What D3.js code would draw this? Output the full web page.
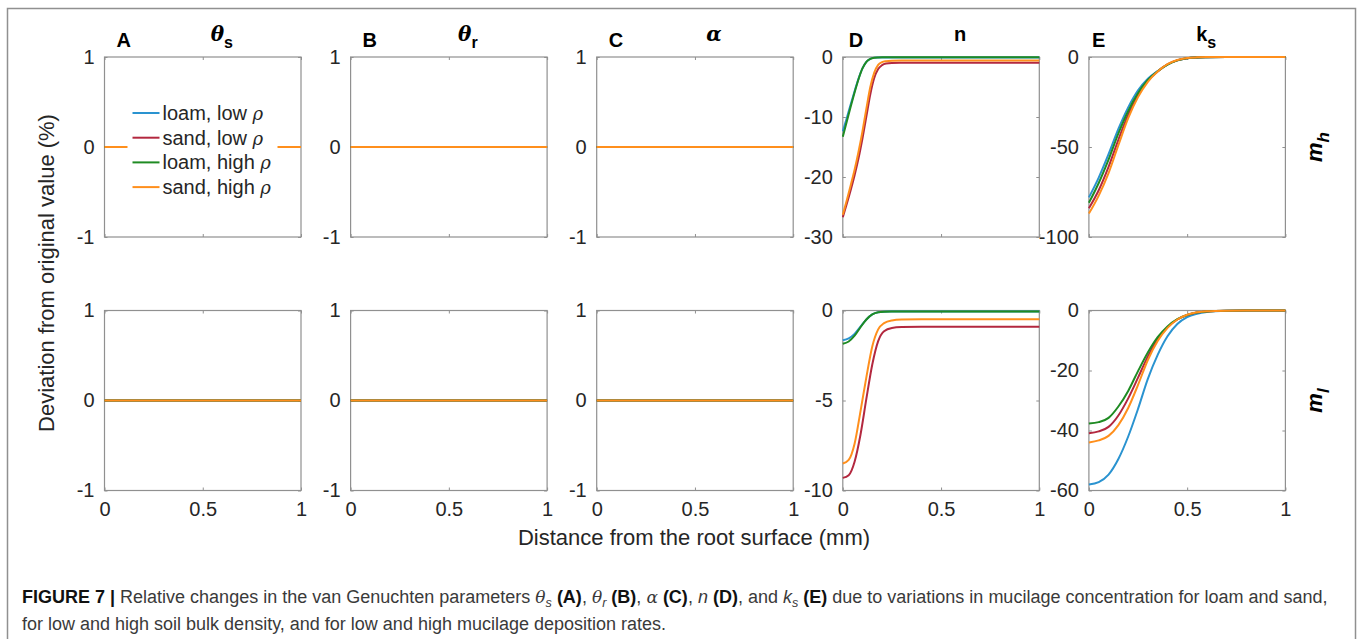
<!DOCTYPE html>
<html><head><meta charset="utf-8">
<script src="https://cdn.jsdelivr.net/npm/d3@7"></script>
<style>
html,body{margin:0;padding:0;background:#fff;}
svg{display:block;font-family:"Liberation Sans",Arial,Helvetica,sans-serif;}
</style></head>
<body>
<script>
// ---------- data ----------
const seriesNames = ["loam, low ρ", "sand, low ρ", "loam, high ρ", "sand, high ρ"];
const xTickValues = [0, 0.5, 1];
const yTicksFlat = [1, 0, -1];
const yTicksDh = [0, -10, -20, -30];
const yTicksEh = [0, -50, -100];
const yTicksDl = [0, -5, -10];
const yTicksEl = [0, -20, -40, -60];

// flat panels (theta_s, theta_r, alpha): all series zero
const xFlat = [0, 1];
const yFlat = [0, 0];

// panel D, high deposition (m_h)
const xDh = [0, 0.02, 0.04, 0.06, 0.08, 0.10, 0.12, 0.14, 0.16, 0.18, 0.20, 0.22, 0.25, 0.30, 0.40, 0.60, 1.0];
const DhLoamLow  = [-12.4, -10.2, -7.9, -5.7, -3.6, -1.9, -0.8, -0.3, -0.13, -0.1, -0.1, -0.1, -0.1, -0.1, -0.1, -0.1, -0.1];
const DhSandLow  = [-26.7, -24.5, -22.2, -19.7, -16.9, -13.6, -9.9, -6.2, -3.5, -2.0, -1.35, -1.1, -1.0, -0.97, -0.95, -0.95, -0.95];
const DhLoamHigh = [-13.3, -10.8, -8.3, -5.9, -3.7, -1.9, -0.8, -0.3, -0.12, -0.08, -0.06, -0.05, -0.05, -0.05, -0.05, -0.05, -0.05];
const DhSandHigh = [-26.3, -23.9, -21.4, -18.8, -15.8, -12.4, -8.6, -5.0, -2.6, -1.3, -0.85, -0.7, -0.62, -0.6, -0.6, -0.6, -0.6];

// panel E, high deposition (m_h)
const xEh = [0, 0.05, 0.1, 0.15, 0.2, 0.25, 0.3, 0.35, 0.4, 0.45, 0.5, 0.55, 0.6, 0.7, 0.8, 1.0];
const EhLoamLow  = [-78, -67, -54, -40, -28, -18.5, -12, -7.8, -4.2, -1.9, -0.7, -0.25, -0.1, 0, 0, 0];
const EhSandLow  = [-84, -74, -61, -46, -32, -21, -13.2, -8, -4.1, -1.8, -0.7, -0.25, -0.1, 0, 0, 0];
const EhLoamHigh = [-81, -70, -57, -42.5, -30, -20, -12.8, -7.9, -4.2, -1.9, -0.7, -0.25, -0.1, 0, 0, 0];
const EhSandHigh = [-87, -77, -64.5, -49, -34, -22.3, -13.8, -8.1, -4.0, -1.7, -0.6, -0.2, -0.05, 0, 0, 0];

// panel D, low deposition (m_l)
const xDl = [0, 0.03, 0.06, 0.09, 0.12, 0.15, 0.18, 0.21, 0.25, 0.3, 0.4, 0.6, 1.0];
const DlLoamLow  = [-1.65, -1.55, -1.3, -0.9, -0.5, -0.22, -0.1, -0.07, -0.06, -0.05, -0.05, -0.05, -0.05];
const DlSandLow  = [-9.3, -9.15, -8.4, -6.9, -4.9, -3.0, -1.7, -1.15, -0.97, -0.92, -0.9, -0.9, -0.9];
const DlLoamHigh = [-1.85, -1.72, -1.4, -0.93, -0.5, -0.22, -0.1, -0.07, -0.06, -0.06, -0.06, -0.06, -0.06];
const DlSandHigh = [-8.5, -8.3, -7.4, -5.6, -3.7, -2.0, -1.05, -0.7, -0.55, -0.5, -0.48, -0.48, -0.48];

// panel E, low deposition (m_l)
const xEl = [0, 0.05, 0.1, 0.15, 0.2, 0.25, 0.3, 0.35, 0.4, 0.45, 0.5, 0.55, 0.6, 0.7, 0.8, 1.0];
const ElLoamLow  = [-58, -57.2, -54.7, -49.5, -42, -32.8, -22.8, -14.8, -8.6, -4.5, -2.2, -1.1, -0.5, -0.1, 0, 0];
const ElSandLow  = [-40.9, -40.3, -38.8, -35, -29.3, -22.4, -15.3, -9.5, -5.6, -3.0, -1.5, -0.7, -0.3, -0.05, 0, 0];
const ElLoamHigh = [-37.7, -37.2, -35.8, -32, -26.8, -20.2, -14, -8.9, -5.3, -2.9, -1.5, -0.7, -0.3, -0.05, 0, 0];
const ElSandHigh = [-44, -43.3, -41.8, -38.2, -32.5, -24.8, -16.5, -10.2, -5.8, -3.0, -1.4, -0.6, -0.25, -0.05, 0, 0];

// ---------- styles / layout ----------
const colors = ["#2a93d0", "#b3283f", "#1f8b23", "#ff8f1c"];
const W = 1360, H = 639;
const colLeft0 = 104.5, colStep = 246.1, plotW = 196.5;
const rowTops = [57, 310.5], plotH = 180;
const frameColor = "#909090";
const textColor = "#262626";
const tickFont = 20;

const svg = d3.select("body").append("svg").attr("width", W).attr("height", H);

// outer frame
svg.append("rect").attr("x", 7.5).attr("y", 8.5).attr("width", 1348).attr("height", 660)
  .attr("fill", "none").attr("stroke", frameColor).attr("stroke-width", 1.5);

const zeros = [yFlat, yFlat, yFlat, yFlat];
const panels = [
  {row:0, col:0, x:xFlat, ys:zeros, domain:[-1,1], ticks:yTicksFlat, letter:"A", title:"theta_s", legend:true},
  {row:0, col:1, x:xFlat, ys:zeros, domain:[-1,1], ticks:yTicksFlat, letter:"B", title:"theta_r"},
  {row:0, col:2, x:xFlat, ys:zeros, domain:[-1,1], ticks:yTicksFlat, letter:"C", title:"alpha"},
  {row:0, col:3, x:xDh, ys:[DhLoamLow, DhSandLow, DhLoamHigh, DhSandHigh], domain:[-30,0], ticks:yTicksDh, letter:"D", title:"n"},
  {row:0, col:4, x:xEh, ys:[EhLoamLow, EhSandLow, EhLoamHigh, EhSandHigh], domain:[-100,0], ticks:yTicksEh, letter:"E", title:"k_s"},
  {row:1, col:0, x:xFlat, ys:zeros, domain:[-1,1], ticks:yTicksFlat},
  {row:1, col:1, x:xFlat, ys:zeros, domain:[-1,1], ticks:yTicksFlat},
  {row:1, col:2, x:xFlat, ys:zeros, domain:[-1,1], ticks:yTicksFlat},
  {row:1, col:3, x:xDl, ys:[DlLoamLow, DlSandLow, DlLoamHigh, DlSandHigh], domain:[-10,0], ticks:yTicksDl},
  {row:1, col:4, x:xEl, ys:[ElLoamLow, ElSandLow, ElLoamHigh, ElSandHigh], domain:[-60,0], ticks:yTicksEl}
];
const letterOffsets = [12, 12, 12, 6, 3];
const titleOffset = 19;

panels.forEach(p => {
  const x0 = colLeft0 + p.col * colStep, y0 = rowTops[p.row];
  const xs = d3.scaleLinear().domain([0, 1]).range([x0, x0 + plotW]);
  const ys = d3.scaleLinear().domain(p.domain).range([y0 + plotH, y0]);
  const g = svg.append("g");

  // box
  g.append("rect").attr("x", x0).attr("y", y0).attr("width", plotW).attr("height", plotH)
    .attr("fill", "#fff").attr("stroke", frameColor).attr("stroke-width", 1.2);

  // axes with inward ticks on all four sides
  const yAxL = g.append("g").attr("transform", `translate(${x0},0)`)
    .call(d3.axisLeft(ys).tickValues(p.ticks).tickSize(-3).tickPadding(10).tickFormat(d3.format("d")));
  const yAxR = g.append("g").attr("transform", `translate(${x0 + plotW},0)`)
    .call(d3.axisRight(ys).tickValues(p.ticks).tickSize(-3).tickFormat(""));
  const xAxB = g.append("g").attr("transform", `translate(0,${y0 + plotH})`)
    .call(d3.axisBottom(xs).tickValues(xTickValues).tickSize(-3).tickPadding(11).tickFormat(d => d3.format("")(d)));
  const xAxT = g.append("g").attr("transform", `translate(0,${y0})`)
    .call(d3.axisTop(xs).tickValues(xTickValues).tickSize(-3).tickFormat(""));
  [yAxL, yAxR, xAxB, xAxT].forEach(a => {
    a.select(".domain").remove();
    a.selectAll(".tick line").attr("stroke", frameColor).attr("stroke-width", 1);
    a.selectAll(".tick text").attr("fill", textColor).attr("font-size", tickFont)
      .attr("font-family", "Liberation Sans, Arial, sans-serif");
  });
  yAxL.selectAll(".tick text").text(d => d < 0 ? "-" + Math.abs(d) : d);
  if (p.row === 0) xAxB.selectAll(".tick text").remove();

  // curves
  const clipId = `clip${p.row}${p.col}`;
  svg.append("clipPath").attr("id", clipId).append("rect")
    .attr("x", x0 - 1).attr("y", y0 - 2).attr("width", plotW + 2).attr("height", plotH + 4);
  const line = d3.line().x(d => xs(d[0])).y(d => ys(d[1])).curve(d3.curveMonotoneX);
  p.ys.forEach((arr, i) => {
    const pts = p.x.map((xv, k) => [xv, arr[k]]);
    g.append("path").attr("d", line(pts)).attr("fill", "none")
      .attr("stroke", colors[i]).attr("stroke-width", 2).attr("clip-path", `url(#${clipId})`);
  });

  // legend
  if (p.legend) {
    const lg = g.append("g");
    lg.append("rect").attr("x", x0 + 23).attr("y", y0 + 40).attr("width", 150).attr("height", 104).attr("fill", "#fff");
    seriesNames.forEach((name, i) => {
      const cy = 113 + i * 24.7;
      lg.append("line").attr("x1", x0 + 28).attr("x2", x0 + 55).attr("y1", cy).attr("y2", cy)
        .attr("stroke", colors[i]).attr("stroke-width", 2);
      const parts = name.split("ρ");
      const t = lg.append("text").attr("x", x0 + 58).attr("y", cy + 7).attr("font-size", 20).attr("fill", textColor);
      t.append("tspan").text(parts[0]);
      t.append("tspan").attr("font-family", "DejaVu Serif, serif").attr("font-style", "italic").attr("font-size", 18).text("ρ");
    });
  }

  // panel letter + title
  if (p.letter) {
    g.append("text").attr("x", x0 + letterOffsets[p.col]).attr("y", 47).attr("font-size", 20)
      .attr("font-weight", "bold").attr("fill", "#000").text(p.letter);
    const t = g.append("text").attr("x", x0 + plotW / 2 + titleOffset).attr("y", 41)
      .attr("text-anchor", "middle").attr("font-size", 20).attr("font-weight", "bold").attr("fill", "#000");
    if (p.title === "theta_s" || p.title === "theta_r") {
      t.append("tspan").attr("font-family", "DejaVu Serif, serif").attr("font-style", "italic").text("θ");
      t.append("tspan").attr("dy", 7).attr("font-size", 16).text(p.title.slice(-1));
    } else if (p.title === "alpha") {
      t.append("tspan").attr("font-family", "DejaVu Serif, serif").attr("font-style", "italic").text("α");
    } else if (p.title === "k_s") {
      t.append("tspan").text("k");
      t.append("tspan").attr("dy", 7).attr("font-size", 16).text("s");
    } else {
      t.text(p.title);
    }
  }
});

// shared axis labels
const labelFont = 22;
svg.append("text").attr("x", 694).attr("y", 545).attr("text-anchor", "middle")
  .attr("font-size", labelFont).attr("fill", textColor).text("Distance from the root surface (mm)");
svg.append("text").attr("transform", "translate(54,273) rotate(-90)").attr("text-anchor", "middle")
  .attr("font-size", labelFont).attr("fill", textColor).text("Deviation from original value (%)");

// row labels m_h, m_l
[["h", rowTops[0] + plotH / 2], ["l", rowTops[1] + plotH / 2]].forEach(([sub, cy]) => {
  const t = svg.append("text").attr("transform", `translate(1322,${cy}) rotate(-90)`).attr("text-anchor", "middle")
    .attr("font-size", 22).attr("font-weight", "bold").attr("font-style", "italic").attr("fill", "#000");
  t.append("tspan").text("m");
  t.append("tspan").attr("dy", 7).attr("font-size", 17).text(sub);
});

// caption
const capFont = 18;
const cap1 = svg.append("text").attr("x", 22).attr("y", 603).attr("font-size", capFont).attr("fill", "#3a3a3a");
function seg(t, txt, opts = {}) {
  const s = t.append("tspan").text(txt);
  if (opts.b) s.attr("font-weight", "bold").attr("fill", "#111");
  if (opts.i) s.attr("font-style", "italic");
  if (opts.serif) s.attr("font-family", "DejaVu Serif, serif").attr("font-style", "italic").attr("font-size", capFont - 1);
  if (opts.sub) s.attr("font-size", capFont * 0.7).attr("dy", 4);
  if (opts.up) s.attr("dy", -4);
  return s;
}
seg(cap1, "FIGURE 7 | ", {b: true});
seg(cap1, "Relative changes in the van Genuchten parameters ");
seg(cap1, "θ", {serif: true}); seg(cap1, "s", {sub: true, i: true}); seg(cap1, " ", {up: true});
seg(cap1, "(A)", {b: true}); seg(cap1, ", ");
seg(cap1, "θ", {serif: true}); seg(cap1, "r", {sub: true, i: true}); seg(cap1, " ", {up: true});
seg(cap1, "(B)", {b: true}); seg(cap1, ", ");
seg(cap1, "α", {serif: true}); seg(cap1, " ");
seg(cap1, "(C)", {b: true}); seg(cap1, ", ");
seg(cap1, "n", {i: true}); seg(cap1, " ");
seg(cap1, "(D)", {b: true}); seg(cap1, ", and ");
seg(cap1, "k", {i: true}); seg(cap1, "s", {sub: true, i: true}); seg(cap1, " ", {up: true});
seg(cap1, "(E)", {b: true});
seg(cap1, " due to variations in mucilage concentration for loam and sand,");
svg.append("text").attr("x", 22).attr("y", 630).attr("font-size", capFont).attr("fill", "#3a3a3a")
  .text("for low and high soil bulk density, and for low and high mucilage deposition rates.");
</script>
</body></html>
